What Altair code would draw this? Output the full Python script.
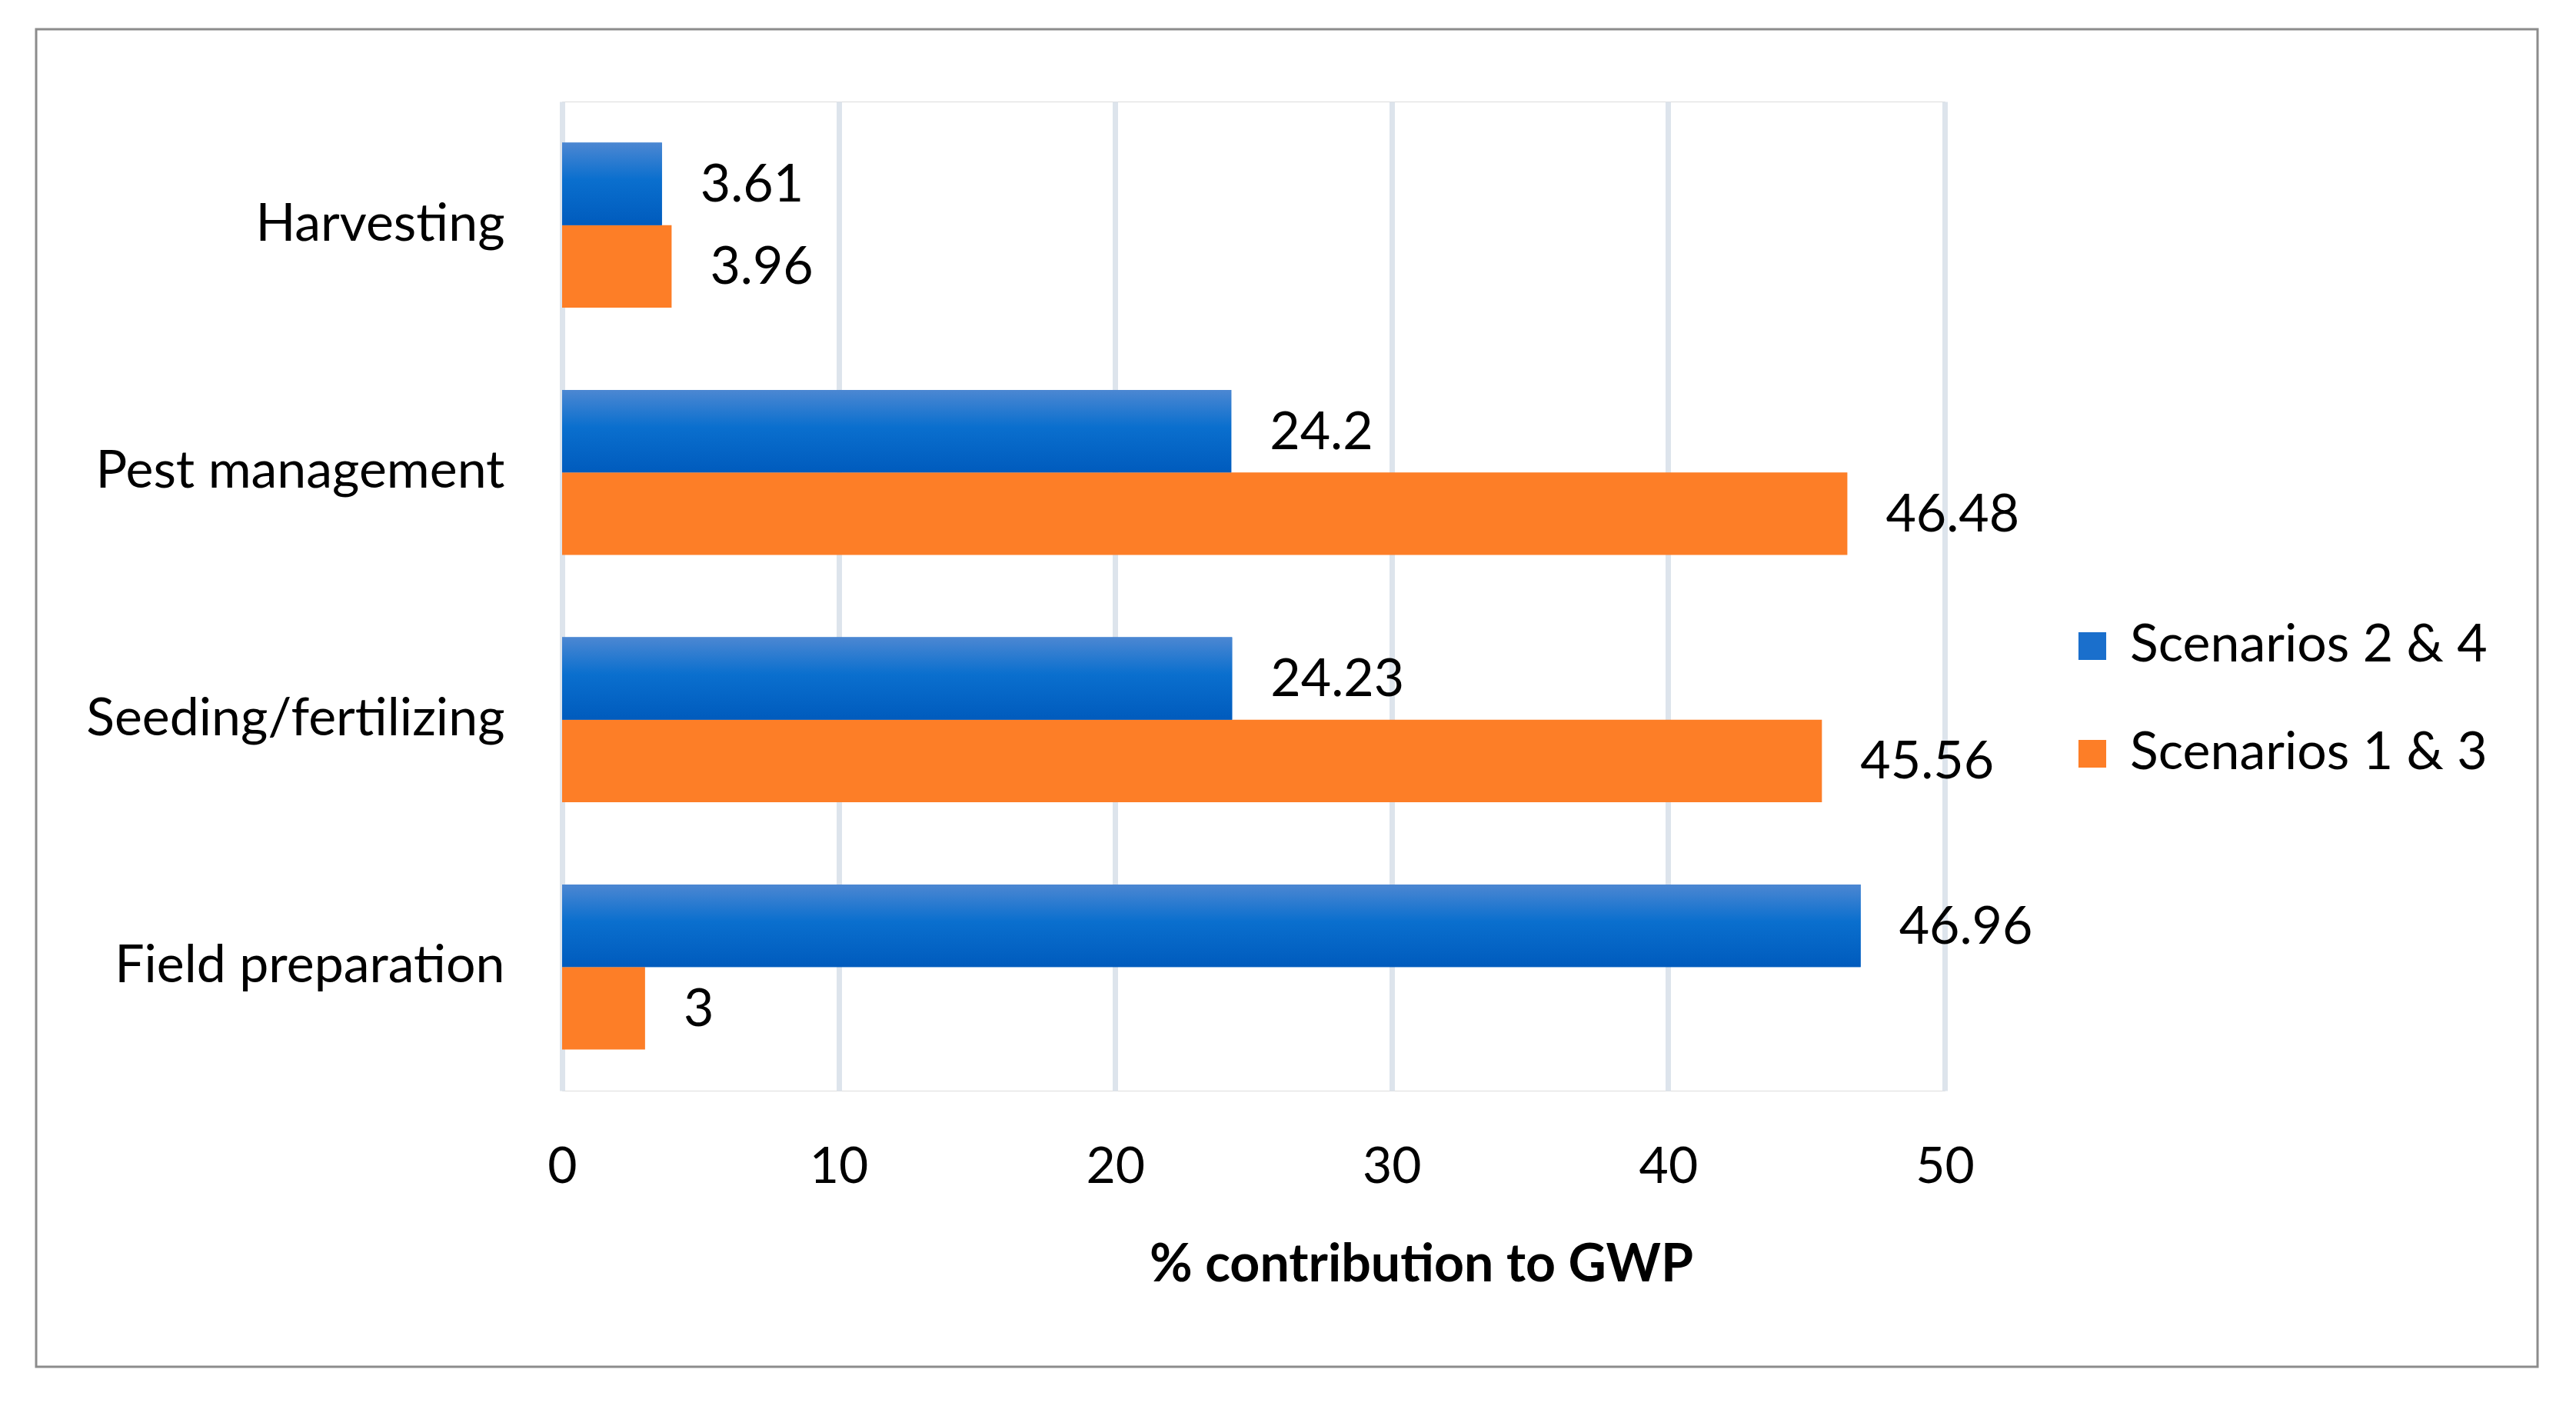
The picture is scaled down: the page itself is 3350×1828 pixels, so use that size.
import altair as alt
import pandas as pd

categories = ["Harvesting", "Pest management", "Seeding/fertilizing", "Field preparation"]
series_order = ["Scenarios 2 & 4", "Scenarios 1 & 3"]
s24 = [3.61, 24.2, 24.23, 46.96]
s13 = [3.96, 46.48, 45.56, 3]
x_ticks = [0, 10, 20, 30, 40, 50]

rows = []
for c, a, b in zip(categories, s24, s13):
    rows.append({"category": c, "series": series_order[0], "value": a})
    rows.append({"category": c, "series": series_order[1], "value": b})
df = pd.DataFrame(rows)

FONT = "Lato"
FS = 68
TFS = 66
BLUE = "#1a6fcc"
ORANGE = "#fd7e27"

blue_grad = alt.LinearGradient(
    gradient="linear",
    stops=[
        alt.GradientStop(color="#4c87d2", offset=0),
        alt.GradientStop(color="#0a6fce", offset=0.45),
        alt.GradientStop(color="#005bbd", offset=1),
    ],
    x1=0, x2=0, y1=0, y2=1,
)

y_enc = alt.Y(
    "category:N",
    sort=categories,
    scale=alt.Scale(paddingInner=1 / 3, paddingOuter=1 / 6),
    axis=alt.Axis(
        title=None, ticks=False, domain=False, grid=False,
        labelFont=FONT, labelFontSize=FS, labelColor="black", labelPadding=75,
        labelLimit=1000,
    ),
)
yoff_enc = alt.YOffset(
    "series:N",
    sort=series_order,
    scale=alt.Scale(domain=series_order, paddingInner=0, paddingOuter=0),
)
x_enc = alt.X(
    "value:Q",
    scale=alt.Scale(domain=[0, 50], nice=False),
    axis=alt.Axis(
        values=x_ticks, grid=True, gridColor="#dde4ec", gridWidth=7,
        ticks=False, domain=False, labelFlush=False,
        labelFont=FONT, labelFontSize=TFS, labelColor="black",
        labelBaseline="middle", labelPadding=99,
        title="% contribution to GWP", titleFont=FONT, titleFontSize=FS,
        titleFontWeight="bold", titleColor="black",
        titleX=1117, titleY=227, titleAlign="center", titleBaseline="middle",
    ),
)

base = alt.Chart(df).encode(y=y_enc, yOffset=yoff_enc)

bars = base.mark_bar().encode(
    x=x_enc,
    color=alt.Color(
        "series:N",
        sort=series_order,
        scale=alt.Scale(domain=series_order, range=[BLUE, ORANGE]),
        legend=alt.Legend(
            title=None, orient="none", legendX=1956, legendY=674,
            symbolType="square", symbolSize=1300, symbolStrokeWidth=0,
            labelFont=FONT, labelFontSize=FS, labelColor="black",
            labelOffset=15, rowPadding=72, labelLimit=1000,
        ),
    ),
)

grad = base.transform_filter(alt.datum.series == series_order[0]).mark_bar(
    color=blue_grad
).encode(x="value:Q")

labels = base.mark_text(
    align="left", baseline="middle", dx=50, dy=3, font=FONT, fontSize=FS, color="black"
).encode(x="value:Q", text=alt.Text("value:Q", format="~g"))

frame = alt.Chart(pd.DataFrame({"k": [0]})).mark_rect(
    fillOpacity=0, stroke="#8c8c8c", strokeWidth=3
).encode(
    x=alt.value(-684), x2=alt.value(2569), y=alt.value(-94), y2=alt.value(1645)
)

chart = alt.layer(frame, bars, grad, labels).properties(
    width=1798,
    height=1286,
    autosize=alt.AutoSizeParams(type="none"),
    padding={"left": 723, "top": 124, "right": 813, "bottom": 402},
).configure_view(stroke=None).configure(font=FONT, background="white")

chart.save("out.html", embed_options={"renderer": "svg", "actions": False})
